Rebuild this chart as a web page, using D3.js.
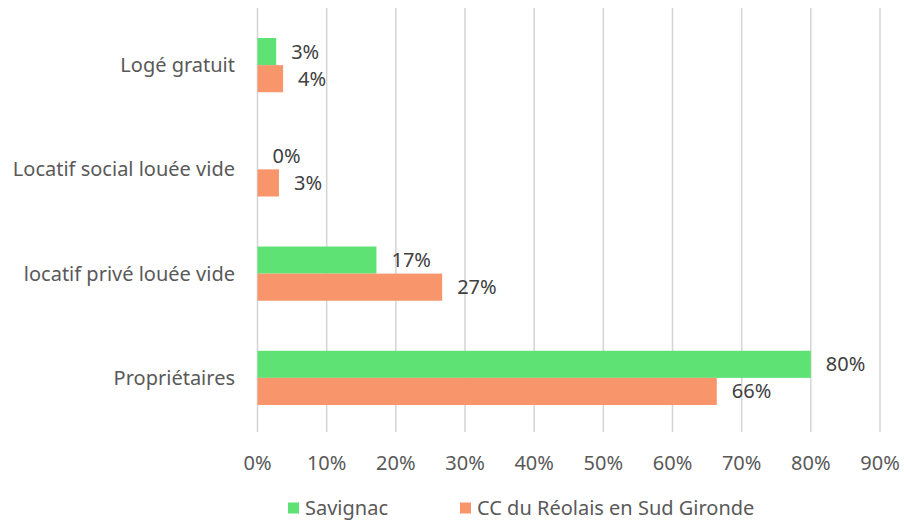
<!DOCTYPE html>
<html>
<head>
<meta charset="utf-8">
<script src="https://cdn.jsdelivr.net/npm/d3@7"></script>
<style>
  body { margin: 0; background: #fff; }
  svg text { font-family: "Noto Sans", "Open Sans", sans-serif; }
</style>
</head>
<body>
<div id="chart"></div>
<script>
const categories = ['Logé gratuit', 'Locatif social louée vide', 'locatif privé louée vide', 'Propriétaires'];
const savignac = [2.7, 0, 17.2, 80];
const ccReolais = [3.7, 3.1, 26.7, 66.4];
const labelsSavignac = ['3%', '0%', '17%', '80%'];
const labelsCC = ['4%', '3%', '27%', '66%'];
const xTicks = [0, 10, 20, 30, 40, 50, 60, 70, 80, 90];
const seriesNames = ['Savignac', 'CC du Réolais en Sud Gironde'];

const colors = {
  green: '#5ee274',
  orange: '#f8956a',
  grid: '#d4d4d4',
  axisText: '#595959',
  labelText: '#404040',
};

const width = 904;
const height = 522;
const margin = { top: 13, right: 24, bottom: 92, left: 257.5 };
const fontSize = 20;

const svg = d3.select('#chart')
  .append('svg')
  .attr('width', width)
  .attr('height', height);

const x = d3.scaleLinear()
  .domain([0, 90])
  .range([margin.left, width - margin.right]);

const y = d3.scaleBand()
  .domain(categories)
  .range([margin.top, height - margin.bottom])
  .paddingInner(0.48)
  .paddingOuter(0.24);

const sub = d3.scaleBand()
  .domain(seriesNames)
  .range([0, y.bandwidth()]);

// gridlines
svg.append('g')
  .selectAll('line')
  .data(xTicks)
  .enter()
  .append('line')
  .attr('x1', d => x(d))
  .attr('x2', d => x(d))
  .attr('y1', 8)
  .attr('y2', height - margin.bottom + 2)
  .attr('stroke', colors.grid)
  .attr('stroke-width', 1.5);

// x tick labels
svg.append('g')
  .selectAll('text')
  .data(xTicks)
  .enter()
  .append('text')
  .attr('x', d => x(d))
  .attr('y', 463)
  .attr('dy', '0.35em')
  .attr('text-anchor', 'middle')
  .attr('font-size', fontSize)
  .attr('fill', colors.axisText)
  .text(d => `${d}%`);

// category labels
svg.append('g')
  .selectAll('text')
  .data(categories)
  .enter()
  .append('text')
  .attr('x', 235)
  .attr('y', d => y(d) + y.bandwidth() / 2)
  .attr('dy', '0.35em')
  .attr('text-anchor', 'end')
  .attr('font-size', fontSize)
  .attr('fill', colors.axisText)
  .text(d => d);

const series = [
  { name: seriesNames[0], values: savignac, labels: labelsSavignac, color: colors.green },
  { name: seriesNames[1], values: ccReolais, labels: labelsCC, color: colors.orange },
];

series.forEach(s => {
  const rows = categories.map((c, i) => ({ cat: c, value: s.values[i], label: s.labels[i] }));

  svg.append('g')
    .selectAll('rect')
    .data(rows)
    .enter()
    .append('rect')
    .attr('x', x(0))
    .attr('y', d => y(d.cat) + sub(s.name))
    .attr('width', d => x(d.value) - x(0))
    .attr('height', sub.bandwidth())
    .attr('fill', s.color);

  svg.append('g')
    .selectAll('text')
    .data(rows)
    .enter()
    .append('text')
    .attr('x', d => x(d.value) + 15)
    .attr('y', d => y(d.cat) + sub(s.name) + sub.bandwidth() / 2)
    .attr('dy', '0.35em')
    .attr('font-size', fontSize)
    .attr('fill', colors.labelText)
    .text(d => d.label);
});

// legend
const legendItems = [
  { name: seriesNames[0], color: colors.green, x: 288 },
  { name: seriesNames[1], color: colors.orange, x: 460 },
];

const legend = svg.append('g')
  .selectAll('g')
  .data(legendItems)
  .enter()
  .append('g')
  .attr('transform', d => `translate(${d.x},508)`);

legend.append('rect')
  .attr('x', 0)
  .attr('y', -5.5)
  .attr('width', 11)
  .attr('height', 11)
  .attr('fill', d => d.color);

legend.append('text')
  .attr('x', 17)
  .attr('y', 0)
  .attr('dy', '0.35em')
  .attr('font-size', fontSize)
  .attr('fill', colors.axisText)
  .text(d => d.name);
</script>
</body>
</html>
